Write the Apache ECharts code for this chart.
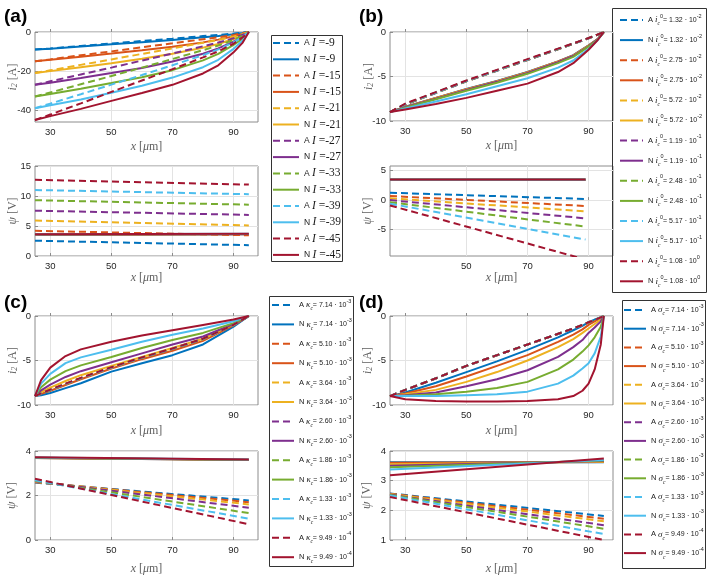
<!DOCTYPE html>
<html lang="en">
<head>
    <meta charset="UTF-8">
    <title>Document</title>
    <style>html, body { margin: 0; padding: 0; background: #fff; }</style>
</head>
<body>
<div id="echarts" style="width: 708px; height: 576px"></div>
<script src="https://cdn.jsdelivr.net/npm/echarts@6/dist/echarts.min.js"></script>
<script>
    const colors = ['#0072BD', '#D95319', '#EDB120', '#7E2F8E', '#77AC30', '#4DBEEE', '#A2142F'];
    const xTicks = [30, 50, 70, 90];

    // (a) applied current I
    const labelsA = ['-9', '-15', '-21', '-27', '-33', '-39', '-45'];
    const xCurA = [25, 30, 40, 50, 60, 70, 80, 85, 90, 93, 95];
    const curA_A = [
        [-9, -8.4, -7.1, -5.9, -4.6, -3.4, -2.1, -1.5, -0.8, -0.3, 0],
        [-15, -14, -11.9, -9.9, -7.8, -5.8, -3.7, -2.7, -1.5, -0.6, 0],
        [-21, -19.6, -16.8, -14, -11.2, -8.4, -5.5, -4, -2.3, -1, 0],
        [-27, -25.2, -21.7, -18.2, -14.6, -11, -7.3, -5.4, -3.2, -1.4, 0],
        [-33, -30.9, -26.7, -22.5, -18.2, -13.8, -9.3, -6.9, -4.1, -1.8, 0],
        [-39, -36.6, -31.8, -26.9, -22, -17, -11.8, -8.9, -5.3, -2.4, 0],
        [-45, -42.2, -36.5, -30.6, -24.8, -19, -13, -9.9, -6, -2.7, 0]
    ];
    const curA_N = [
        [-9, -8.5, -7.4, -6.3, -5.2, -4.1, -2.7, -2.0, -1.1, -0.5, 0],
        [-15, -14.2, -12.6, -11, -9.3, -7.5, -5.3, -3.9, -2.2, -1, 0],
        [-21, -20, -18, -16, -13.7, -11.1, -8, -6.1, -3.6, -1.7, 0],
        [-27, -25.9, -23.5, -21, -18.4, -15.1, -11.1, -8.4, -4.9, -2.4, 0],
        [-33, -31.7, -29, -26.1, -23.1, -19.5, -14.5, -11.2, -6.6, -3.3, 0],
        [-39, -37.4, -34.5, -31, -27.5, -23.3, -18, -14.2, -8.6, -4.3, 0],
        [-45, -43, -39.3, -35.2, -31.2, -27, -21.2, -17, -10.4, -5.4, 0]
    ];
    const xPsiA = [25, 95];
    const psiA_A = [[2.55, 1.8], [4.2, 3.45], [5.9, 5.1], [7.55, 6.85], [9.3, 8.55], [11.0, 10.3], [12.7, 11.9]];
    const psiA_N = [[3.55, 3.62], [3.56, 3.64], [3.58, 3.65], [3.6, 3.66], [3.61, 3.68], [3.62, 3.7], [3.62, 3.72]];

    // (b) exchange current density
    const labelsB = ['1.32', '2.75', '5.72', '1.19', '2.48', '5.17', '1.08'];
    const expB = ['-2', '-2', '-2', '-1', '-1', '-1', '0'];
    const xCurB = [25, 30, 40, 50, 60, 70, 80, 85, 90, 93, 95];
    const curB_A = [
        [-9, -8.15, -6.85, -5.55, -4.35, -3.15, -1.95, -1.33, -0.72, -0.3, 0],
        [-9, -8.14, -6.84, -5.54, -4.34, -3.14, -1.94, -1.32, -0.71, -0.3, 0],
        [-9, -8.13, -6.83, -5.53, -4.33, -3.13, -1.93, -1.31, -0.7, -0.3, 0],
        [-9, -8.12, -6.82, -5.52, -4.32, -3.12, -1.92, -1.3, -0.7, -0.3, 0],
        [-9, -8.11, -6.81, -5.51, -4.31, -3.11, -1.91, -1.3, -0.69, -0.29, 0],
        [-9, -8.1, -6.8, -5.5, -4.3, -3.1, -1.9, -1.3, -0.69, -0.29, 0],
        [-9, -8.05, -6.75, -5.45, -4.25, -3.05, -1.87, -1.28, -0.68, -0.28, 0]
    ];
    const curB_N = [
        [-9, -8.4, -7.4, -6.4, -5.5, -4.5, -3.3, -2.6, -1.5, -0.8, 0],
        [-9, -8.42, -7.42, -6.42, -5.52, -4.52, -3.32, -2.62, -1.52, -0.8, 0],
        [-9, -8.45, -7.45, -6.45, -5.55, -4.55, -3.35, -2.65, -1.55, -0.8, 0],
        [-9, -8.45, -7.5, -6.5, -5.6, -4.6, -3.4, -2.7, -1.6, -0.8, 0],
        [-9, -8.5, -7.55, -6.6, -5.7, -4.7, -3.5, -2.8, -1.65, -0.85, 0],
        [-9, -8.6, -7.8, -7.0, -6.1, -5.2, -4.0, -3.2, -1.9, -0.9, 0],
        [-9, -8.7, -8.1, -7.4, -6.6, -5.8, -4.5, -3.5, -2.0, -0.9, 0]
    ];
    const xPsiB = [25, 89];
    const psiB_A = [[1.25, 0.2], [0.7, -1.0], [0.3, -1.9], [0, -3.1], [-0.35, -4.5], [-0.6, -6.7], [-0.9, -10.1]];
    const psiB_N = [[3.45, 3.45], [3.46, 3.46], [3.47, 3.47], [3.48, 3.48], [3.49, 3.49], [3.5, 3.5], [3.5, 3.5]];

    // (c) kappa_c and (d) sigma_c share the same values
    const labelsCD = ['7.14', '5.10', '3.64', '2.60', '1.86', '1.33', '9.49'];
    const expCD = ['-3', '-3', '-3', '-3', '-3', '-3', '-4'];

    const xCurC = [25, 27, 30, 35, 40, 50, 60, 70, 80, 90, 95];
    const curC_A = [
        [-9, -8.74, -8.35, -7.68, -7.03, -5.83, -4.73, -3.73, -2.63, -1.03, 0],
        [-9, -8.73, -8.34, -7.67, -7.02, -5.82, -4.72, -3.72, -2.62, -1.02, 0],
        [-9, -8.73, -8.33, -7.66, -7.01, -5.81, -4.71, -3.71, -2.61, -1.01, 0],
        [-9, -8.72, -8.32, -7.65, -7.0, -5.8, -4.7, -3.7, -2.6, -1.0, 0],
        [-9, -8.72, -8.31, -7.64, -6.99, -5.79, -4.69, -3.69, -2.59, -1.0, 0],
        [-9, -8.71, -8.3, -7.63, -6.98, -5.78, -4.68, -3.68, -2.58, -0.99, 0],
        [-9, -8.7, -8.28, -7.6, -6.95, -5.75, -4.65, -3.65, -2.55, -0.98, 0]
    ];
    const curC_N = [
        [-9, -8.9, -8.65, -8.1, -7.55, -6.25, -5.3, -4.4, -3.2, -1.2, 0],
        [-9, -8.75, -8.4, -7.75, -7.1, -5.9, -4.85, -3.9, -2.8, -1.05, 0],
        [-9, -8.55, -8.05, -7.3, -6.65, -5.6, -4.6, -3.6, -2.55, -0.95, 0],
        [-9, -8.35, -7.7, -6.85, -6.2, -5.2, -4.2, -3.2, -2.3, -0.9, 0],
        [-9, -8.0, -7.15, -6.2, -5.55, -4.6, -3.6, -2.7, -1.9, -0.8, 0],
        [-9, -7.6, -6.5, -5.3, -4.65, -3.8, -2.9, -2.1, -1.4, -0.6, 0],
        [-9, -7.2, -5.8, -4.5, -3.75, -2.9, -2.2, -1.6, -1.0, -0.4, 0]
    ];
    const xPsiC = [25, 95];
    const psiC_A = [[2.58, 1.78], [2.6, 1.7], [2.62, 1.6], [2.64, 1.45], [2.66, 1.21], [2.68, 0.96], [2.75, 0.71]];
    const psiC_N = [[3.68, 3.6], [3.69, 3.6], [3.69, 3.61], [3.7, 3.61], [3.7, 3.61], [3.71, 3.62], [3.72, 3.62]];

    const xCurD = [25, 30, 40, 50, 60, 70, 80, 85, 88, 90, 92, 94, 95];
    const curD_A = [
        [-9, -8.32, -7.02, -5.62, -4.42, -3.22, -2.02, -1.42, -1.02, -0.72, -0.46, -0.16, 0],
        [-9, -8.32, -7.02, -5.62, -4.42, -3.22, -2.02, -1.42, -1.02, -0.72, -0.46, -0.16, 0],
        [-9, -8.31, -7.01, -5.61, -4.41, -3.21, -2.01, -1.41, -1.01, -0.71, -0.45, -0.15, 0],
        [-9, -8.31, -7.01, -5.61, -4.41, -3.21, -2.01, -1.41, -1.01, -0.71, -0.45, -0.15, 0],
        [-9, -8.3, -7.0, -5.6, -4.4, -3.2, -2.0, -1.4, -1.0, -0.7, -0.45, -0.15, 0],
        [-9, -8.3, -7.0, -5.6, -4.4, -3.2, -2.0, -1.4, -1.0, -0.7, -0.45, -0.15, 0],
        [-9, -8.3, -7.0, -5.6, -4.4, -3.2, -2.0, -1.4, -1.0, -0.7, -0.45, -0.15, 0]
    ];
    const curD_N = [
        [-9, -8.6, -7.5, -6.3, -5.1, -3.8, -2.4, -1.6, -1.1, -0.7, -0.4, -0.15, 0],
        [-9, -8.7, -7.9, -6.8, -5.6, -4.4, -2.9, -2.1, -1.5, -1.0, -0.6, -0.25, 0],
        [-9, -8.8, -8.3, -7.4, -6.3, -5.0, -3.5, -2.6, -1.9, -1.4, -0.9, -0.4, 0],
        [-9, -8.9, -8.6, -7.9, -7.1, -6.1, -4.6, -3.5, -2.7, -1.9, -1.3, -0.6, 0],
        [-9, -8.95, -8.8, -8.5, -8.1, -7.4, -6.0, -4.9, -4.0, -3.3, -2.4, -1.2, 0],
        [-9, -9.0, -9.0, -8.9, -8.8, -8.5, -7.6, -6.7, -5.9, -5.3, -4.2, -2.3, 0],
        [-9, -9.35, -9.55, -9.6, -9.6, -9.55, -9.35, -9.0, -8.4, -7.6, -6.0, -3.2, 0]
    ];
    const xPsiD = [25, 95];
    const psiD_A = [[2.57, 1.81], [2.56, 1.72], [2.55, 1.63], [2.53, 1.5], [2.52, 1.38], [2.5, 1.2], [2.45, 1.0]];
    const psiD_N = [[3.62, 3.62], [3.6, 3.63], [3.55, 3.64], [3.5, 3.66], [3.45, 3.68], [3.38, 3.7], [3.18, 3.75]];

    // y axis limits and tick values, one per plot
    const yLimits = [[-46, 0], [0, 15], [-10, 0], [-9.5, 5.8], [-10, 0], [0, 4], [-10, 0], [1, 4]];
    const yTicks = [[-40, -20, 0], [0, 5, 10, 15], [-10, -5, 0], [-5, 0, 5], [-10, -5, 0], [0, 2, 4], [-10, -5, 0], [1, 2, 3, 4]];

    const grids = [
        {left: 35, top: 32, width: 223, height: 90},
        {left: 35, top: 166, width: 223, height: 90},
        {left: 390, top: 32, width: 223, height: 89},
        {left: 390, top: 166, width: 223, height: 90},
        {left: 35, top: 316, width: 223, height: 89},
        {left: 35, top: 451, width: 223, height: 90},
        {left: 390, top: 316, width: 223, height: 89},
        {left: 390, top: 451, width: 223, height: 90}
    ].map(g => Object.assign(g, {show: true, borderColor: '#8c8c8c', borderWidth: 1, containLabel: false}));

    const boxGray = '#8c8c8c';
    const nameStyle = {
        fontFamily: 'Liberation Serif', fontSize: 12, color: '#606060',
        rich: {
            i: {fontFamily: 'Liberation Serif', fontStyle: 'italic', fontSize: 12, color: '#606060'},
            s: {fontFamily: 'Liberation Serif', fontStyle: 'italic', fontSize: 8, color: '#606060', verticalAlign: 'bottom', lineHeight: 8}
        }
    };
    const xNameGap = [19, 16, 19, 16, 20, 23, 20, 23];
    const yNameGap = [16, 16, 15, 16, 16, 17, 16, 17];

    const xAxis = grids.map((g, i) => ({
        type: 'value', gridIndex: i, min: 25, max: 98,
        name: '{i|x} [{i|μ}m]', nameLocation: 'middle', nameGap: xNameGap[i], nameMoveOverlap: false,
        nameTextStyle: nameStyle,
        axisLine: {show: false},
        axisTick: {inside: true, length: 3, lineStyle: {color: boxGray}, customValues: i === 3 ? xTicks.slice(1) : xTicks},
        axisLabel: {margin: 5, fontSize: 9.5, color: '#262626', fontFamily: 'Liberation Sans',
            customValues: i === 3 ? xTicks.slice(1) : xTicks},
        splitLine: {show: true, lineStyle: {color: '#e3e3e3', width: 1}}
    }));

    const yAxis = grids.map((g, i) => ({
        type: 'value', gridIndex: i, min: yLimits[i][0], max: yLimits[i][1],
        name: i % 2 === 0 ? '{i|i}{s|2} [A]' : '{i|ψ} [V]',
        nameLocation: 'middle', nameGap: yNameGap[i], nameMoveOverlap: false, nameTextStyle: nameStyle,
        axisLine: {show: false},
        axisTick: {inside: true, length: 3, lineStyle: {color: boxGray}, customValues: yTicks[i]},
        axisLabel: {margin: 4, fontSize: 9.5, color: '#262626', fontFamily: 'Liberation Sans', customValues: yTicks[i]},
        splitLine: {show: true, lineStyle: {color: '#e3e3e3', width: 1}}
    }));

    const series = [];
    function addPanel(key, gCur, xCur, curA, curN, xPsi, psiA, psiN) {
        for (let k = 0; k < 7; k++) {
            [['A', curA, psiA, [7, 4]], ['N', curN, psiN, 'solid']].forEach(([t, cur, psi, dash]) => {
                const name = key + t + k;
                const common = {
                    type: 'line', name: name, symbol: 'none', animation: false,
                    lineStyle: {color: colors[k], width: 2, type: dash},
                    itemStyle: {color: colors[k]}
                };
                series.push(Object.assign({}, common, {
                    xAxisIndex: gCur, yAxisIndex: gCur,
                    data: xCur.map((x, j) => [x, cur[k][j]])
                }));
                series.push(Object.assign({}, common, {
                    xAxisIndex: gCur + 1, yAxisIndex: gCur + 1,
                    data: xPsi.map((x, j) => [x, psi[k][j]])
                }));
            });
        }
    }
    addPanel('a', 0, xCurA, curA_A, curA_N, xPsiA, psiA_A, psiA_N);
    addPanel('b', 2, xCurB, curB_A, curB_N, xPsiB, psiB_A, psiB_N);
    addPanel('c', 4, xCurC, curC_A, curC_N, xPsiC, psiC_A, psiC_N);
    addPanel('d', 6, xCurD, curD_A, curD_N, xPsiD, psiD_A, psiD_N);

    // legend label text
    const legendText = {};
    for (let k = 0; k < 7; k++) {
        ['A', 'N'].forEach(t => {
            legendText['a' + t + k] = `{pa|${t} }{it|I}{sr| =${labelsA[k]}}`;
            legendText['b' + t + k] = `{p|${t} }{gi|i}{sub|c}{sup|0}{n|= ${labelsB[k]} · 10}{sup|${expB[k]}}`;
            legendText['c' + t + k] = `{p|${t} }{gi|κ}{sub|c}{n|= ${labelsCD[k]} · 10}{sup|${expCD[k]}}`;
            legendText['d' + t + k] = `{p|${t} }{gi|σ}{sub|c}{n|= ${labelsCD[k]} · 10}{sup|${expCD[k]}}`;
        });
    }
    const ink = '#1a1a1a';
    const rich = {
        pa: {fontFamily: 'Liberation Sans', fontSize: 8.5, lineHeight: 14, color: ink},
        p: {fontFamily: 'Liberation Sans', fontSize: 7.5, lineHeight: 14, color: ink},
        it: {fontFamily: 'Liberation Serif', fontStyle: 'italic', fontSize: 11.5, lineHeight: 14, color: ink},
        sr: {fontFamily: 'Liberation Serif', fontSize: 11.5, lineHeight: 14, color: ink},
        n: {fontFamily: 'Liberation Sans', fontSize: 7, lineHeight: 14, color: ink},
        gi: {fontFamily: 'Liberation Serif', fontStyle: 'italic', fontSize: 9, lineHeight: 14, color: ink},
        sub: {fontFamily: 'Liberation Serif', fontStyle: 'italic', fontSize: 5.5, lineHeight: 6, verticalAlign: 'bottom', color: ink},
        sup: {fontFamily: 'Liberation Sans', fontSize: 5.5, lineHeight: 7, verticalAlign: 'top', color: ink}
    };
    function legendFor(key, left, top, itemWidth, itemGap) {
        const names = [];
        for (let k = 0; k < 7; k++) names.push(key + 'A' + k, key + 'N' + k);
        return {
            data: names, orient: 'vertical', left: left, top: top, padding: 0,
            itemWidth: itemWidth, itemHeight: 10, itemGap: itemGap, selectedMode: false,
            itemStyle: {opacity: 0},
            formatter: name => legendText[name],
            textStyle: {fontSize: 8, lineHeight: 14, rich: rich}
        };
    }
    const legend = [
        legendFor('a', 272, 36, 26, 2.3),
        legendFor('b', 619, 13, 23, 6.1),
        legendFor('c', 271, 298, 22, 5.4),
        legendFor('d', 623, 303, 22, 4.7)
    ];

    const panelFont = 'bold 19px "Liberation Sans"';
    const graphic = [
        {type: 'rect', left: 271, top: 35, shape: {width: 71, height: 226}, style: {fill: 'transparent', stroke: '#333', lineWidth: 1}},
        {type: 'rect', left: 612, top: 8, shape: {width: 94, height: 284}, style: {fill: 'transparent', stroke: '#333', lineWidth: 1}},
        {type: 'rect', left: 269, top: 296, shape: {width: 84, height: 270}, style: {fill: 'transparent', stroke: '#333', lineWidth: 1}},
        {type: 'rect', left: 622, top: 300, shape: {width: 83, height: 268}, style: {fill: 'transparent', stroke: '#333', lineWidth: 1}},
        {type: 'text', left: 4, top: 7, style: {text: '(a)', font: panelFont, fill: '#000'}},
        {type: 'text', left: 359, top: 7, style: {text: '(b)', font: panelFont, fill: '#000'}},
        {type: 'text', left: 4, top: 293, style: {text: '(c)', font: panelFont, fill: '#000'}},
        {type: 'text', left: 359, top: 293, style: {text: '(d)', font: panelFont, fill: '#000'}}
    ];

    const chart = echarts.init(document.getElementById('echarts'));
    chart.setOption({
        animation: false,
        backgroundColor: '#fff',
        grid: grids,
        xAxis: xAxis,
        yAxis: yAxis,
        legend: legend,
        graphic: graphic,
        series: series
    });
</script>
</body>
</html>
